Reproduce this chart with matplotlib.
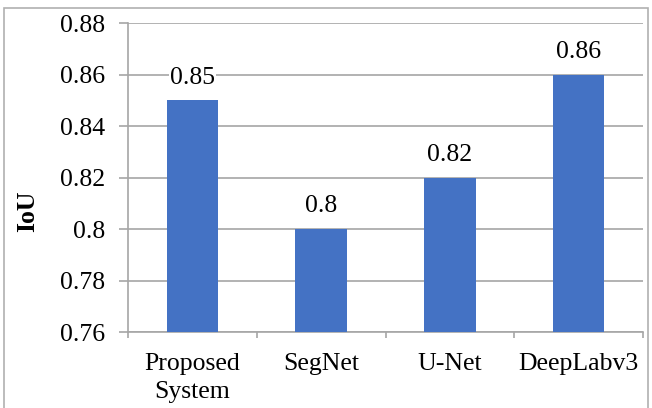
import matplotlib.pyplot as plt
from matplotlib.patches import Rectangle

# data
categories = ["Proposed\nSystem", "SegNet", "U-Net", "DeepLabv3"]
iou = [0.85, 0.80, 0.82, 0.86]
labels = ["0.85", "0.8", "0.82", "0.86"]
yticks = [0.76, 0.78, 0.80, 0.82, 0.84, 0.86, 0.88]
ytick_labels = ["0.76", "0.78", "0.8", "0.82", "0.84", "0.86", "0.88"]

plt.rcParams["font.family"] = ["Liberation Serif", "DejaVu Serif"]
fs = 18.5

W, H = 652, 408
fig = plt.figure(figsize=(W / 100, H / 100), dpi=100)
ax = fig.add_axes([128 / W, 1 - 332 / H, (643 - 128) / W, (332 - 23) / H])

# outer chart border (bottom edge runs off the image)
fig.patches.append(Rectangle((4 / W, -4 / H), 644 / W, (H + 4 - 8) / H,
                             transform=fig.transFigure, fill=False,
                             edgecolor="#b0b0b0", linewidth=1.2))

x = range(len(categories))
ax.bar(x, iou, width=0.4, color="#4472C4", zorder=3)

for i, v in enumerate(iou):
    ax.text(i, v + 0.0045, labels[i], ha="center", va="bottom", fontsize=fs,
            zorder=4, bbox=dict(facecolor="white", edgecolor="none", pad=0.5))

ax.set_ylim(0.76, 0.88)
ax.set_xlim(-0.5, len(categories) - 0.5)
ax.set_yticks(yticks)
ax.set_yticklabels(ytick_labels, fontsize=fs)
ax.yaxis.grid(True, color="#a6a6a6", linewidth=1.2, zorder=0)

ax.set_xticks([i - 0.5 for i in range(len(categories) + 1)])
ax.set_xticklabels([])
ax.set_xticks(list(x), minor=True)
ax.set_xticklabels(categories, minor=True, fontsize=fs, linespacing=1.35)
ax.tick_params(axis="x", which="minor", length=0, pad=15)
ax.tick_params(axis="x", which="major", length=4.5, color="#a6a6a6", width=1.2)
ax.tick_params(axis="y", length=6.5, color="#a6a6a6", width=1.2, pad=10)

for s in ["top", "right"]:
    ax.spines[s].set_visible(False)
for s in ["left", "bottom"]:
    ax.spines[s].set_color("#a6a6a6")
    ax.spines[s].set_linewidth(1.2)

ax.set_ylabel("IoU", fontsize=fs, fontweight="bold")
ax.yaxis.set_label_coords(39 / W, 1 - 211 / H, transform=fig.transFigure)

fig.savefig("out.png", dpi=100)
